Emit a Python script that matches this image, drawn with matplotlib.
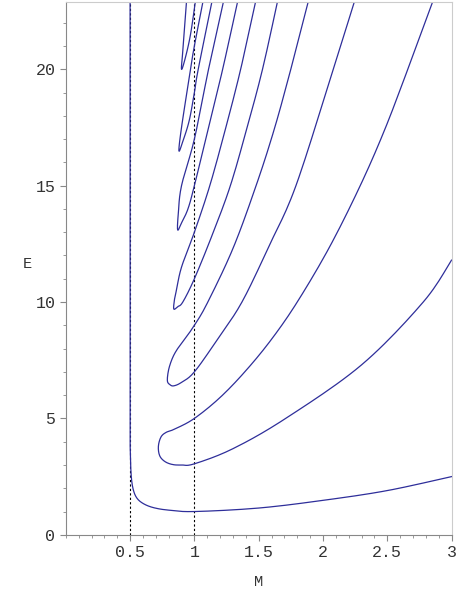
import matplotlib
matplotlib.use("Agg")
import matplotlib.pyplot as plt
import numpy as np

# lowest curve (vertical at M=0.5, minimum at M=1)
curve_a_m = [0.5, 0.5, 0.502, 0.508, 0.522, 0.55, 0.6, 0.68, 0.8, 1.0, 1.5, 2.0, 2.5, 3.0]
curve_a_e = [23.0, 6.0, 3.6, 2.6, 2.0, 1.6, 1.35, 1.17, 1.06, 1.0, 1.15, 1.48, 1.9, 2.5]

# loops: upper branch (top -> nose) followed by lower branch (nose -> end)
loop1_m = [2.86, 2.66, 2.48, 2.29, 2.05, 1.80, 1.6, 1.4, 1.2, 1.0, 0.85, 0.78, 0.74, 0.72, 0.73, 0.77, 0.83, 0.9, 1.0, 1.3, 1.71, 2.3, 2.78, 3.0]
loop1_e = [23.0, 20.0, 17.4, 15.0, 12.35, 10.0, 8.4, 7.05, 5.9, 5.0, 4.55, 4.4, 4.2, 3.8, 3.4, 3.15, 3.02, 3.0, 3.05, 3.7, 5.0, 7.3, 10.0, 11.8]
loop2_m = [1.89, 1.75, 1.62, 1.48, 1.3, 1.1, 1.0, 0.93, 0.87, 0.83, 0.80, 0.79, 0.81, 0.84, 0.9, 1.0, 1.18, 1.37, 1.58, 1.79, 2.08, 2.25]
loop2_e = [23.0, 20.0, 17.4, 15.0, 12.3, 9.95, 9.0, 8.45, 8.0, 7.6, 7.1, 6.62, 6.45, 6.4, 6.55, 7.0, 8.4, 10.0, 12.4, 15.0, 20.0, 23.0]
loop3_m = [1.48, 1.36, 1.24, 1.12, 1.0, 0.9, 0.86, 0.845, 0.84, 0.87, 0.91, 1.0, 1.14, 1.28, 1.41, 1.53, 1.65]
loop3_e = [23.0, 20.0, 17.4, 15.0, 13.0, 11.5, 10.5, 10.1, 9.7, 9.8, 10.0, 11.0, 12.9, 15.0, 17.5, 20.0, 23.0]
loop4_m = [1.23, 1.11, 1.0, 0.9, 0.875, 0.87, 0.9, 0.95, 1.0, 1.11, 1.22, 1.34]
loop4_e = [23.0, 20.0, 17.0, 15.0, 13.8, 13.1, 13.4, 14.0, 15.0, 17.5, 20.0, 23.0]
loop5_m = [1.07, 1.0, 0.97, 0.9, 0.88, 0.91, 0.96, 1.0, 1.03, 1.14]
loop5_e = [23.0, 21.0, 20.0, 17.5, 16.5, 16.9, 17.8, 19.0, 20.0, 23.0]
loop6_m = [0.94, 0.91, 0.90, 0.93, 0.97, 1.01]
loop6_e = [23.0, 20.8, 20.0, 20.5, 21.5, 23.0]

dashed_m = [0.5, 1.0]


def smooth(xs, ys, n=12):
    # Catmull-Rom through the given points, for a smoother line
    p = np.column_stack([xs, ys])
    p = np.vstack([p[0], p, p[-1]])
    out = []
    for i in range(1, len(p) - 2):
        p0, p1, p2, p3 = p[i - 1], p[i], p[i + 1], p[i + 2]
        for t in np.linspace(0, 1, n, endpoint=False):
            t2, t3 = t * t, t * t * t
            out.append(0.5 * (2 * p1 + (-p0 + p2) * t + (2 * p0 - 5 * p1 + 4 * p2 - p3) * t2
                              + (-p0 + 3 * p1 - 3 * p2 + p3) * t3))
    out.append(p[-2])
    out = np.array(out)
    return out[:, 0], out[:, 1]


fig = plt.figure(figsize=(4.57, 5.89), dpi=100)
ax = fig.add_axes([0.144, 0.092, 0.844, 0.905])
color = "#2e2e9a"

for x in dashed_m:
    ax.plot([x, x], [0, 23], color="black", lw=0.8, ls=(0, (2, 2)))

curves = [(curve_a_m, curve_a_e), (loop1_m, loop1_e), (loop2_m, loop2_e),
          (loop3_m, loop3_e), (loop4_m, loop4_e), (loop5_m, loop5_e), (loop6_m, loop6_e)]
for ms, es in curves:
    xs, ys = smooth(ms, es)
    ax.plot(xs, ys, color=color, lw=0.9)

ax.set_xlim(0, 3)
ax.set_ylim(0, 22.9)
ax.set_xticks([0.5, 1, 1.5, 2, 2.5, 3])
ax.set_xticklabels(["0.5", "1", "1.5", "2", "2.5", "3"])
ax.set_xticks(np.arange(0, 3.01, 0.1), minor=True)
ax.set_yticks([0, 5, 10, 15, 20])
ax.set_yticks(np.arange(0, 23, 1), minor=True)
for s in ["top", "right"]:
    ax.spines[s].set_color("#cccccc")
for s in ["left", "bottom"]:
    ax.spines[s].set_color("#888888")
ax.tick_params(which="both", colors="#888888", labelcolor="#333333",
               labelsize=12, direction="out", top=False, right=False)
ax.tick_params(which="major", length=4)
ax.tick_params(which="minor", length=2)
for lab in ax.get_xticklabels() + ax.get_yticklabels():
    lab.set_family("Liberation Mono")
ax.set_xlabel("M", family="Liberation Mono", fontsize=11, color="#333333")
ax.set_ylabel("E", family="Liberation Mono", fontsize=11, color="#333333", rotation=0)
ax.xaxis.set_label_coords(0.5, -0.075)
ax.yaxis.set_label_coords(-0.1, 0.495)

fig.savefig("out.png", dpi=100)
